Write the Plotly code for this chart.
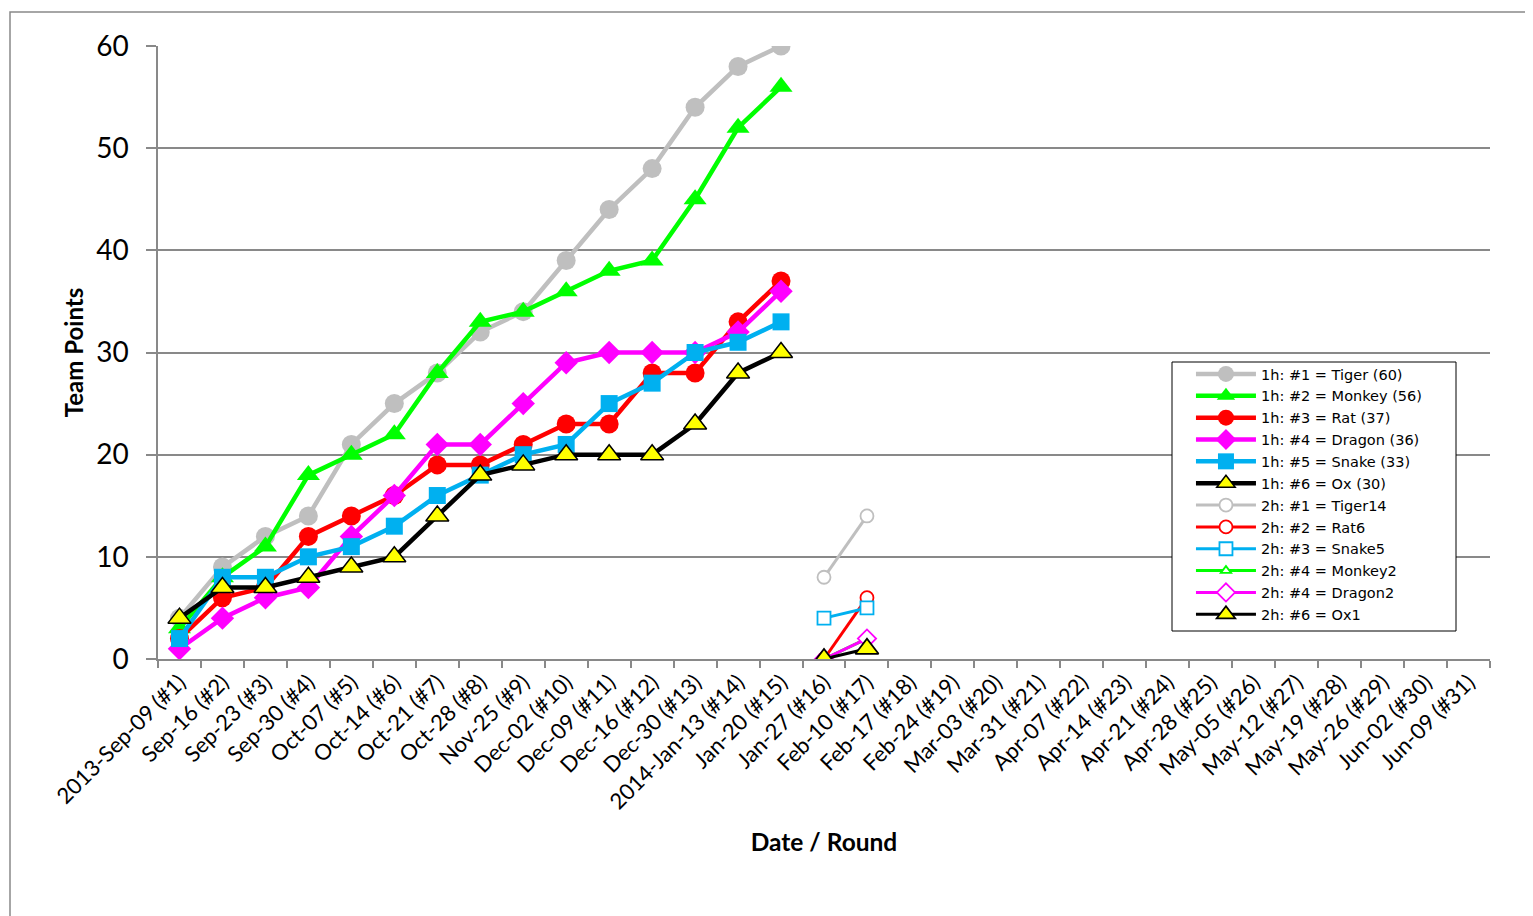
import plotly.graph_objects as go

rounds = ["2013-Sep-09 (#1)", "Sep-16 (#2)", "Sep-23 (#3)", "Sep-30 (#4)", "Oct-07 (#5)",
          "Oct-14 (#6)", "Oct-21 (#7)", "Oct-28 (#8)", "Nov-25 (#9)", "Dec-02 (#10)",
          "Dec-09 (#11)", "Dec-16 (#12)", "Dec-30 (#13)", "2014-Jan-13 (#14)", "Jan-20 (#15)",
          "Jan-27 (#16)", "Feb-10 (#17)", "Feb-17 (#18)", "Feb-24 (#19)", "Mar-03 (#20)",
          "Mar-31 (#21)", "Apr-07 (#22)", "Apr-14 (#23)", "Apr-21 (#24)", "Apr-28 (#25)",
          "May-05 (#26)", "May-12 (#27)", "May-19 (#28)", "May-26 (#29)", "Jun-02 (#30)",
          "Jun-09 (#31)"]

first_half = rounds[:15]
second_half = rounds[15:17]

tiger_1h = [4, 9, 12, 14, 21, 25, 28, 32, 34, 39, 44, 48, 54, 58, 60]
monkey_1h = [3, 8, 11, 18, 20, 22, 28, 33, 34, 36, 38, 39, 45, 52, 56]
rat_1h = [2, 6, 7, 12, 14, 16, 19, 19, 21, 23, 23, 28, 28, 33, 37]
dragon_1h = [1, 4, 6, 7, 12, 16, 21, 21, 25, 29, 30, 30, 30, 32, 36]
snake_1h = [2, 8, 8, 10, 11, 13, 16, 18, 20, 21, 25, 27, 30, 31, 33]
ox_1h = [4, 7, 7, 8, 9, 10, 14, 18, 19, 20, 20, 20, 23, 28, 30]

tiger_2h = [8, 14]
rat_2h = [0, 6]
snake_2h = [4, 5]
monkey_2h = [0, 2]
dragon_2h = [0, 2]
ox_2h = [0, 1]

GRAY = "#BFBFBF"
GREEN = "#00FF00"
RED = "#FF0000"
MAGENTA = "#FF00FF"
BLUE = "#00B0F0"
BLACK = "#000000"
YELLOW = "#FFFF00"

fig = go.Figure()

# invisible trace so every round appears on the category axis
fig.add_trace(go.Scatter(x=rounds, y=[None] * len(rounds), mode="lines",
                         showlegend=False, hoverinfo="skip"))

def add1h(name, y, color, symbol, size, mcolor=None, mline=None):
    fig.add_trace(go.Scatter(
        x=first_half, y=y, name=name, mode="lines+markers",
        line=dict(color=color, width=4.5),
        marker=dict(symbol=symbol, size=size, color=mcolor or color,
                    line=dict(color=mline or (mcolor or color), width=1.5 if mline else 0))))

def add2h(name, y, color, symbol, size, mline=None, mfill="white"):
    fig.add_trace(go.Scatter(
        x=second_half, y=y, name=name, mode="lines+markers",
        line=dict(color=color, width=3),
        marker=dict(symbol=symbol, size=size, color=mfill,
                    line=dict(color=mline or color, width=1.8))))

add1h("1h: #1 = Tiger (60)", tiger_1h, GRAY, "circle", 19)
add1h("1h: #2 = Monkey (56)", monkey_1h, GREEN, "triangle-up", 20)
add1h("1h: #3 = Rat (37)", rat_1h, RED, "circle", 19)
add1h("1h: #4 = Dragon (36)", dragon_1h, MAGENTA, "diamond", 18)
add1h("1h: #5 = Snake (33)", snake_1h, BLUE, "square", 17)
add1h("1h: #6 = Ox (30)", ox_1h, BLACK, "triangle-up", 20, mcolor=YELLOW, mline=BLACK)

add2h("2h: #1 = Tiger14", tiger_2h, GRAY, "circle", 13)
add2h("2h: #2 = Rat6", rat_2h, RED, "circle", 13)
add2h("2h: #3 = Snake5", snake_2h, BLUE, "square", 13)
add2h("2h: #4 = Monkey2", monkey_2h, GREEN, "triangle-up", 9)
add2h("2h: #4 = Dragon2", dragon_2h, MAGENTA, "diamond", 14)
add2h("2h: #6 = Ox1", ox_2h, BLACK, "triangle-up", 20, mline=BLACK, mfill=YELLOW)

AX = "#898989"
FONT = "Lato, 'Open Sans', sans-serif"

fig.update_layout(
    width=1533, height=916,
    margin=dict(l=150, r=51, t=38, b=265),
    paper_bgcolor="white", plot_bgcolor="white",
    font=dict(family=FONT, color="black"),
    showlegend=True,
    legend=dict(x=0.7755, y=0.491, xanchor="left", yanchor="top",
                bgcolor="rgba(0,0,0,0)", borderwidth=0,
                font=dict(size=14.5, family="'DejaVu Sans', sans-serif"), tracegroupgap=0,
                itemwidth=60),
    xaxis=dict(type="category", categoryorder="array", categoryarray=rounds,
               range=[-0.5, len(rounds) - 0.5], tickson="boundaries",
               ticks="outside", ticklen=7, tickcolor=AX, tickwidth=1.5,
               showline=True, linecolor=AX, linewidth=1.5,
               showgrid=False, tickangle=-45, tickfont=dict(size=22),
               title=dict(text="<b>Date / Round</b>", font=dict(size=24.5), standoff=21)),
    yaxis=dict(range=[0, 60], dtick=10, showgrid=True, gridcolor=AX, gridwidth=1.5,
               zeroline=False, showline=True, linecolor=AX, linewidth=1.5,
               ticks="outside", ticklen=10, tickcolor=AX, tickwidth=1.5,
               ticklabelstandoff=12,
               tickfont=dict(size=28),
               title=dict(text="<b>Team Points</b>", font=dict(size=24), standoff=6)),
    shapes=[
        dict(type="rect", xref="paper", yref="paper",
             x0=(2 - 150) / 1332, x1=1.2, y0=-0.6, y1=(651 - 4) / 613,
             line=dict(color=AX, width=1.5), layer="below"),
        # legend box
        dict(type="rect", xref="paper", yref="paper",
             x0=(1172 - 158) / 1332, x1=(1456 - 158) / 1332,
             y0=(659 - 631) / 613, y1=(659 - 362) / 613,
             fillcolor="white", line=dict(color="black", width=1), layer="above"),
    ],
)

fig.write_html("out.html")
